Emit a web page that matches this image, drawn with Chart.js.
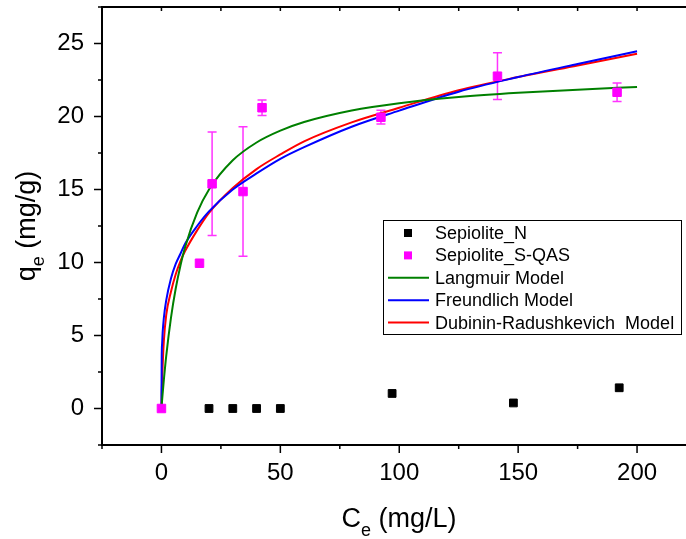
<!DOCTYPE html>
<html>
<head>
<meta charset="utf-8">
<script src="https://cdn.jsdelivr.net/npm/chart.js@4.4.0/dist/chart.umd.min.js"></script>
<style>
  html, body { margin: 0; padding: 0; background: #fff; overflow: hidden; }
  #wrap { position: relative; width: 710px; height: 539px; }
</style>
</head>
<body>
<div id="wrap"><canvas id="grafico"></canvas></div>
<script>
// --- dados ---
const nCe = [20, 30, 40, 50, 97, 148, 192.5];
const nQe = [0, 0, 0, 0, 1.03, 0.38, 1.42];

const sCe = [0, 16, 21.3, 34.3, 42.3, 92.3, 141.3, 191.6];
const sQe = [0, 9.95, 15.39, 14.86, 20.6, 19.95, 22.76, 21.66];
const sErr = [0, 0, 3.54, 4.43, 0.53, 0.47, 1.6, 0.64];

// curvas de ajuste (valores lidos ao longo de cada curva)
const fitCe = [0, 0.1, 0.3, 0.5, 1, 2, 4, 6, 8, 10, 15, 20, 30, 40, 50, 60, 80, 100, 125, 150, 175, 200];
const langmuirQe = [0, 0.21, 0.62, 1.01, 1.94, 3.59, 6.21, 8.22, 9.8, 11.08, 13.41, 15.0, 17.0, 18.22, 19.03, 19.62, 20.41, 20.91, 21.33, 21.62, 21.84, 22.02];
const freundlichQe = [0, 3.4, 4.5, 5.2, 6.2, 7.4, 8.9, 9.9, 10.6, 11.3, 12.5, 13.5, 15.0, 16.1, 17.1, 17.9, 19.3, 20.4, 21.7, 22.7, 23.6, 24.47];
const drQe = [0, 1.0, 2.0, 2.9, 4.6, 6.4, 8.0, 9.2, 10.1, 10.8, 12.2, 13.4, 15.1, 16.4, 17.4, 18.3, 19.6, 20.6, 21.8, 22.7, 23.5, 24.3];

const xTicks = [0, 50, 100, 150, 200];
const yTicks = [0, 5, 10, 15, 20, 25];

const FONTE = "'Liberation Sans', Arial, sans-serif";

function pares(xs, ys) {
  return xs.map((x, i) => ({ x: x, y: ys[i] }));
}

// barras de erro da série S-QAS
const errorBars = {
  id: "errorBars",
  beforeDatasetsDraw(chart) {
    const { ctx, scales: { x, y } } = chart;
    ctx.save();
    ctx.strokeStyle = "#ff33ff";
    ctx.lineWidth = 1.5;
    sCe.forEach((c, i) => {
      if (!sErr[i]) return;
      const px = x.getPixelForValue(c);
      const top = y.getPixelForValue(sQe[i] + sErr[i]);
      const bot = y.getPixelForValue(sQe[i] - sErr[i]);
      ctx.beginPath();
      ctx.moveTo(px, top); ctx.lineTo(px, bot);
      ctx.moveTo(px - 4.5, top); ctx.lineTo(px + 4.5, top);
      ctx.moveTo(px - 4.5, bot); ctx.lineTo(px + 4.5, bot);
      ctx.stroke();
    });
    ctx.restore();
  }
};

// moldura, marcas dos eixos, títulos e legenda
const moldura = {
  id: "moldura",
  afterDraw(chart) {
    const { ctx, chartArea: a, scales: { x, y } } = chart;
    ctx.save();
    ctx.strokeStyle = "#000";
    ctx.lineWidth = 2;
    ctx.beginPath();
    ctx.moveTo(a.left, a.top); ctx.lineTo(a.right, a.top); ctx.lineTo(a.right, a.bottom);
    ctx.stroke();

    ctx.lineWidth = 1.5;
    ctx.beginPath();
    for (let v = -25; v <= 225; v += 25) {
      const px = x.getPixelForValue(v);
      const len = v % 50 === 0 ? 8 : 4;
      ctx.moveTo(px, a.bottom); ctx.lineTo(px, a.bottom + len);
      ctx.moveTo(px, a.top); ctx.lineTo(px, a.top + 4);
    }
    for (let v = -2.5; v <= 27.5; v += 2.5) {
      const py = y.getPixelForValue(v);
      const len = Math.abs(v % 5) < 0.01 ? 8 : 4;
      ctx.moveTo(a.left, py); ctx.lineTo(a.left - len, py);
    }
    ctx.stroke();

    // títulos com subscrito
    ctx.fillStyle = "#000";
    ctx.textBaseline = "alphabetic";
    function titulo(base, sub, resto, cx, cy) {
      ctx.font = "27px " + FONTE;
      const w1 = ctx.measureText(base).width;
      const w3 = ctx.measureText(resto).width;
      ctx.font = "18px " + FONTE;
      const w2 = ctx.measureText(sub).width;
      let px = cx - (w1 + w2 + w3) / 2;
      ctx.font = "27px " + FONTE;
      ctx.fillText(base, px, cy);
      ctx.font = "18px " + FONTE;
      ctx.fillText(sub, px + w1, cy + 9);
      ctx.font = "27px " + FONTE;
      ctx.fillText(resto, px + w1 + w2, cy);
    }
    titulo("C", "e", " (mg/L)", 399, 527);
    ctx.save();
    ctx.translate(35, 226);
    ctx.rotate(-Math.PI / 2);
    titulo("q", "e", " (mg/g)", 0, 0);
    ctx.restore();

    // legenda
    ctx.lineWidth = 1;
    ctx.strokeStyle = "#000";
    ctx.strokeRect(383.5, 220.5, 298, 114);
    ctx.font = "18px " + FONTE;
    ctx.textBaseline = "middle";
    chart.data.datasets.forEach((ds, i) => {
      const ly = 233 + i * 22.4;
      if (ds.showLine) {
        ctx.strokeStyle = ds.borderColor;
        ctx.lineWidth = 2;
        ctx.beginPath();
        ctx.moveTo(388, ly); ctx.lineTo(429, ly);
        ctx.stroke();
      } else {
        ctx.fillStyle = ds.backgroundColor;
        ctx.fillRect(404, ly - 4, 8, 8);
      }
      ctx.fillStyle = "#000";
      ctx.fillText(ds.label, 435, ly + 1);
    });
    ctx.restore();
  }
};

const curva = (label, ys, cor) => ({
  label: label,
  data: pares(fitCe, ys),
  showLine: true,
  borderColor: cor,
  backgroundColor: cor,
  borderWidth: 2,
  pointRadius: 0,
  cubicInterpolationMode: "monotone"
});

new Chart(document.getElementById("grafico"), {
  type: "scatter",
  data: {
    datasets: [
      {
        label: "Sepiolite_N",
        data: pares(nCe, nQe),
        pointStyle: "rect",
        pointRadius: 5.5,
        borderWidth: 1,
        backgroundColor: "#000000",
        borderColor: "#000000",
        showLine: false
      },
      {
        label: "Sepiolite_S-QAS",
        data: pares(sCe, sQe),
        pointStyle: "rect",
        pointRadius: 6,
        borderWidth: 1,
        backgroundColor: "#ff00ff",
        borderColor: "#ff00ff",
        showLine: false
      },
      curva("Langmuir Model", langmuirQe, "#008000"),
      curva("Freundlich Model", freundlichQe, "#0000ff"),
      curva("Dubinin-Radushkevich  Model", drQe, "#ff0000")
    ]
  },
  options: {
    responsive: true,
    maintainAspectRatio: false,
    animation: false,
    events: [],
    layout: { padding: { left: 0, top: 7, right: 13.5, bottom: 0 } },
    plugins: { legend: { display: false }, tooltip: { enabled: false } },
    scales: {
      x: {
        type: "linear",
        min: -25,
        max: 225,
        afterBuildTicks: s => { s.ticks = xTicks.map(v => ({ value: v })); },
        afterFit: s => { s.height = 94; s.paddingLeft = 0; s.paddingRight = 0; },
        grid: { display: false, drawTicks: false },
        border: { display: true, color: "#000", width: 2 },
        ticks: { color: "#000", font: { size: 24, family: FONTE }, padding: 14, maxRotation: 0 }
      },
      y: {
        type: "linear",
        min: -2.5,
        max: 27.5,
        afterBuildTicks: s => { s.ticks = yTicks.map(v => ({ value: v })); },
        afterFit: s => { s.width = 102; s.paddingTop = 0; s.paddingBottom = 0; },
        grid: { display: false, drawTicks: false },
        border: { display: true, color: "#000", width: 2 },
        ticks: { color: "#000", font: { size: 24, family: FONTE }, padding: 18 }
      }
    }
  },
  plugins: [errorBars, moldura]
});
</script>
</body>
</html>
